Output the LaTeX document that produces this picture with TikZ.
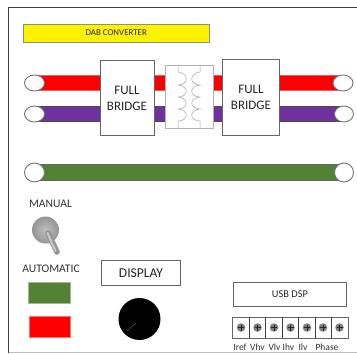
\documentclass[tikz,border=0pt]{standalone}
\usepackage{fontspec}
\usetikzlibrary{shapes.geometric}
\setmainfont{Carlito}
\definecolor{dgreen}{HTML}{548235}
\definecolor{dpurple}{HTML}{7030A0}
\definecolor{edgegray}{HTML}{666666}
\begin{document}
\begin{tikzpicture}[x=1pt,y=-1pt,
  box/.style={draw=edgegray,line width=0.9pt,fill=white,inner sep=0pt,align=center,text=black!85,anchor=north west},
  lbl/.style={inner sep=0pt,text=black!80,font=\fontsize{9.5pt}{10pt}\selectfont},
  port/.style={ellipse,draw=black!55,line width=0.9pt,fill=white,inner sep=0pt},
  redbar/.style={fill=red,draw=red!70!black!60},
  purplebar/.style={fill=dpurple,draw=black!70},
  greenbar/.style={fill=dgreen,draw=black!60},
  coil/.style={draw=black!35,line width=0.5pt},
  screw/.style={circle,fill=black!50,inner sep=0pt,minimum size=8.5pt}
]
\useasboundingbox (0,0) rectangle (357,354);
\fill[white] (0,0) rectangle (357,354);
% frame
\draw[black!75,line width=0.8pt] (357,7.5) -- (8.5,7.5) -- (8.5,352.5);
\draw[black!25,line width=0.8pt] (8.5,352.8) -- (357,352.8);
% title
\node[box,draw=black!45,fill=yellow,minimum width=186.5pt,minimum height=18pt,font=\fontsize{8.9pt}{9pt}\selectfont] (title) at (22.5,23.5) {DAB CONVERTER};
% bars
\path[redbar] (34,75) rectangle (345,90);
\path[purplebar] (34,106) rectangle (345,121);
\path[greenbar] (34,164) rectangle (345,180);
% bridges
\node[box,minimum width=54pt,minimum height=75pt,font=\fontsize{13pt}{16pt}\selectfont] (fb1) at (99.5,60) {FULL\\BRIDGE};
\node[box,minimum width=57pt,minimum height=76pt,font=\fontsize{13pt}{16pt}\selectfont] (fb2) at (222,59) {FULL\\BRIDGE};
% transformer
\node[box,draw=black!30,line width=0.5pt,minimum width=48.5pt,minimum height=63pt] (tr) at (164.5,65) {};
\draw[coil] (178,65) -- (178,72) .. controls (189,73) and (189,85) .. (178,85)
  .. controls (189,86) and (189,97) .. (178,97)
  .. controls (189,98) and (189,109) .. (178,109)
  .. controls (189,110) and (189,121) .. (178,121) -- (178,128);
\draw[coil] (200,65) -- (200,72) .. controls (189,73) and (189,85) .. (200,85)
  .. controls (189,86) and (189,97) .. (200,97)
  .. controls (189,98) and (189,109) .. (200,109)
  .. controls (189,110) and (189,121) .. (200,121) -- (200,128);
% ports
\node[port,minimum width=20pt,minimum height=16pt] (p1) at (34.5,83) {};
\node[port,minimum width=20pt,minimum height=16pt] (p2) at (34.5,114) {};
\node[port,minimum width=20pt,minimum height=16pt] (p3) at (343,83) {};
\node[port,minimum width=19pt,minimum height=16pt] (p4) at (344,114) {};
\node[port,minimum width=20pt,minimum height=19pt] (p5) at (34.5,172.5) {};
\node[port,minimum width=19pt,minimum height=19pt] (p6) at (344,172.5) {};
% toggle
\node[lbl,font=\fontsize{11.6pt}{12pt}\selectfont] (manual) at (50.5,204) {MANUAL};
\shade[inner color=black!25,outer color=black!42] (45.5,230) circle (13.5);
\draw[black!42,line width=5.5pt,line cap=round] (48,233) -- (57,252);
\draw[black!22,line width=2.2pt,line cap=round] (47.5,233) -- (55.5,251);
\node[lbl,font=\fontsize{11.6pt}{12pt}\selectfont] (auto) at (51,268.5) {AUTOMATIC};
% indicators
\node[box,draw=dgreen!55!white,line width=0.4pt,fill=dgreen,minimum width=42pt,minimum height=21pt] (ledg) at (28,281.5) {};
\node[box,draw=red!55!white,line width=0.4pt,fill=red,minimum width=41pt,minimum height=21pt] (ledr) at (29,316) {};
% display
\node[box,minimum width=79pt,minimum height=24.5pt,font=\fontsize{13.5pt}{14pt}\selectfont] (disp) at (101,260) {DISPLAY};
% knob
\node[circle,fill=black,inner sep=0pt,minimum size=42pt] (knob) at (139.5,319) {};
\draw[black!55,line width=0.3pt] (127,331) -- (136,323);
% usb
\node[box,minimum width=113pt,minimum height=24pt,font=\fontsize{10.4pt}{11pt}\selectfont] (usb) at (233,282) {USB DSP};
% terminals
\node[box,minimum width=115.5pt,minimum height=21pt] (strip) at (232,317) {};
\foreach \x in {249,265.5,282,298.5,315,331.5} \draw[black!75,line width=0.8pt] (\x,317) -- (\x,338);
\foreach \x/\n in {241/a,257.5/b,274/c,290.5/d,307/e,323/f,339.5/g} {
  \node[screw] (s\n) at (\x,327.5) {};
  \draw[black!85,line width=0.8pt] (\x-3,327.5) -- (\x+3,327.5) (\x,324.5) -- (\x,330.5);
}
% labels
\node[lbl] (l1) at (240,347) {Iref};
\node[lbl] (l2) at (257.5,347) {Vhv};
\node[lbl] (l3) at (274.5,347) {Vlv};
\node[lbl] (l4) at (288.5,347) {Ihv};
\node[lbl] (l5) at (303,347) {Ilv};
\node[lbl] (l6) at (327,347) {Phase};
\end{tikzpicture}
\end{document}
